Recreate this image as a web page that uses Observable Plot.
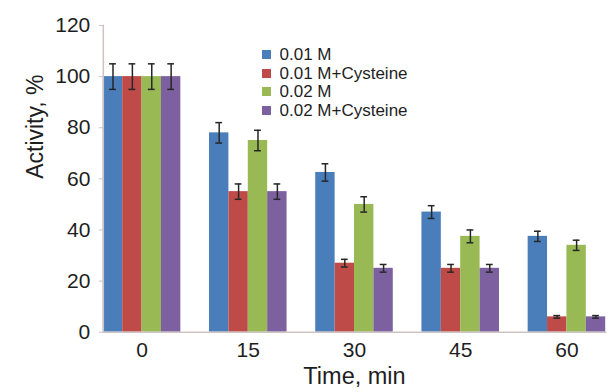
<!DOCTYPE html>
<html>
<head>
<meta charset="utf-8">
<script src="https://cdn.jsdelivr.net/npm/d3@7"></script>
<script src="https://cdn.jsdelivr.net/npm/@observablehq/plot@0.6"></script>
<style>
  html, body { margin: 0; padding: 0; background: #fff; }
  #wrap { position: relative; width: 614px; height: 392px; overflow: hidden; font-family: "Liberation Sans", Arial, sans-serif; }
  #legend { position: absolute; left: 262px; top: 46px; }
  #legend div { line-height: 17.5px; }
</style>
</head>
<body>
<div id="wrap"></div>
<script>
// ---- data ----
const times = [0, 15, 30, 45, 60];
const seriesNames = ["0.01 M", "0.01 M+Cysteine", "0.02 M", "0.02 M+Cysteine"];
const seriesColors = ["#4a7ebb", "#be4b48", "#98b954", "#7d60a0"];
const m001 = [100, 78, 62.5, 47, 37.5];
const m001Err = [5, 4, 3.4, 2.5, 2];
const m001Cys = [100, 55, 27, 25, 6];
const m001CysErr = [5, 3, 1.5, 1.5, 0.5];
const m002 = [100, 75, 50, 37.5, 34];
const m002Err = [5, 4, 3, 2.5, 2];
const m002Cys = [100, 55, 25, 25, 6];
const m002CysErr = [5, 3, 1.5, 1.5, 0.5];
const yTicks = [0, 20, 40, 60, 80, 100, 120];

const valueLists = [m001, m001Cys, m002, m002Cys];
const errLists = [m001Err, m001CysErr, m002Err, m002CysErr];
const rows = [];
times.forEach((t, i) => {
  seriesNames.forEach((s, j) => {
    rows.push({time: t, series: s, value: valueLists[j][i], err: errLists[j][i]});
  });
});

const axisColor = "#cfc3c3";
const textColor = "#1e1e1e";
const errColor = "#262626";

const chart = Plot.plot({
  width: 614,
  height: 392,
  marginLeft: 89,
  marginRight: -5,
  marginTop: 25,
  marginBottom: 60.3,
  style: {fontFamily: "'Liberation Sans', Arial, sans-serif", background: "#fff"},
  fx: {domain: times, paddingInner: 0.27, paddingOuter: 0.13, round: false},
  x: {domain: seriesNames, padding: 0, round: false, axis: null},
  y: {domain: [0, 120]},
  color: {domain: seriesNames, range: seriesColors},
  marks: [
    Plot.barY(rows, {fx: "time", x: "series", y: "value", fill: "series"}),
    Plot.ruleX(rows, {fx: "time", x: "series", y1: d => d.value - d.err, y2: d => d.value + d.err, stroke: errColor, strokeWidth: 1.5}),
    Plot.tickY(rows, {fx: "time", x: "series", y: d => d.value + d.err, stroke: errColor, strokeWidth: 1.5, insetLeft: 6.3, insetRight: 6.3}),
    Plot.tickY(rows, {fx: "time", x: "series", y: d => d.value - d.err, stroke: errColor, strokeWidth: 1.5, insetLeft: 6.3, insetRight: 6.3}),
    Plot.frame({anchor: "bottom", facet: "super", stroke: axisColor, strokeWidth: 1.5}),
    Plot.frame({anchor: "left", facet: "super", stroke: axisColor, strokeWidth: 1.5}),
    Plot.axisY({ticks: yTicks, tickSize: 4, tickPadding: 9, fontSize: 21, stroke: axisColor, fill: textColor, label: null}),
    Plot.axisFx({anchor: "bottom", tickSize: 0, tickPadding: 10, fontSize: 21, fill: textColor, label: null}),
    Plot.text(["Activity, %"], {frameAnchor: "left", rotate: -90, dx: -68, fontSize: 23, fill: textColor, facet: "super"}),
    Plot.text(["Time, min"], {frameAnchor: "bottom", dy: 52, fontSize: 23.5, fill: textColor, facet: "super"})
  ]
});

const wrap = document.getElementById("wrap");
wrap.appendChild(chart);

const legend = Plot.legend({
  color: {domain: seriesNames, range: seriesColors},
  legend: "swatches",
  columns: 1,
  swatchSize: 9,
  style: {fontSize: "17px", fontFamily: "'Liberation Sans', Arial, sans-serif", color: textColor}
});
legend.id = "legend";
wrap.appendChild(legend);
</script>
</body>
</html>
